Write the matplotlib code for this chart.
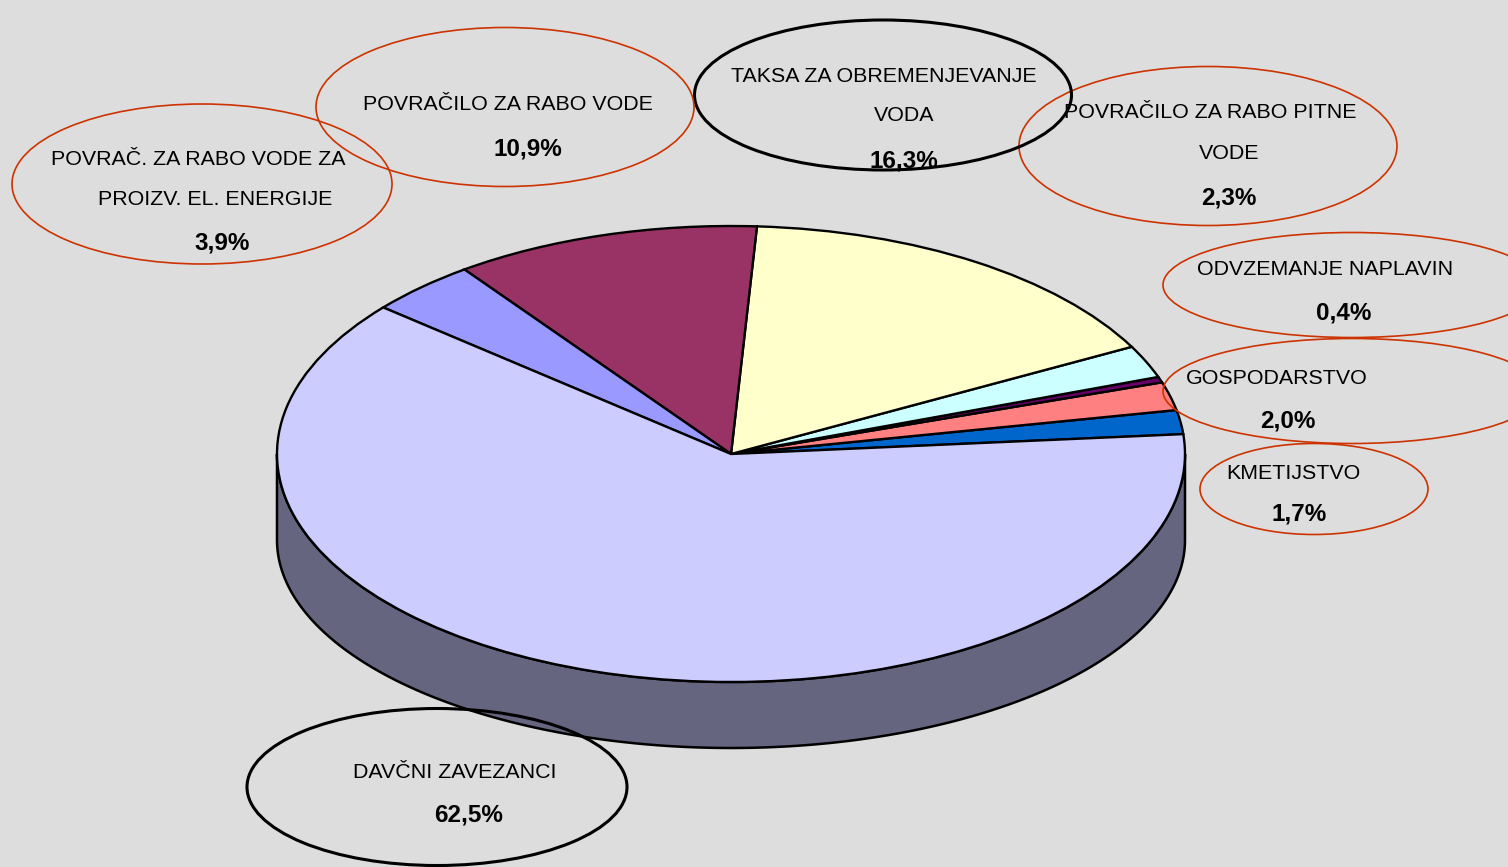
import matplotlib
matplotlib.use("Agg")
import matplotlib.pyplot as plt
from matplotlib.patches import Ellipse, Polygon
import numpy as np

# ---------------- data ----------------
categories = ["KMETIJSTVO", "GOSPODARSTVO", "ODVZEMANJE NAPLAVIN",
              "POVRAČILO ZA RABO PITNE VODE", "TAKSA ZA OBREMENJEVANJE VODA",
              "POVRAČILO ZA RABO VODE",
              "POVRAČ. ZA RABO VODE ZA PROIZV. EL. ENERGIJE",
              "DAVČNI ZAVEZANCI"]
shares = [1.7, 2.0, 0.4, 2.3, 16.3, 10.9, 3.9, 62.5]
label_lines = [["KMETIJSTVO"], ["GOSPODARSTVO"], ["ODVZEMANJE NAPLAVIN"],
               ["POVRAČILO ZA RABO PITNE", "VODE"],
               ["TAKSA ZA OBREMENJEVANJE", "VODA"],
               ["POVRAČILO ZA RABO VODE"],
               ["POVRAČ. ZA RABO VODE ZA", "PROIZV. EL. ENERGIJE"],
               ["DAVČNI ZAVEZANCI"]]
pct_labels = [f"{v:.1f}%".replace(".", ",") for v in shares]

# ---------------- style / layout ----------------
colors = ["#0066CC", "#FF8080", "#660066", "#CCFFFF", "#FFFFCC",
          "#993366", "#9999FF", "#CCCCFF"]
side_color = "#65657F"
bg = "#DDDDDD"
W, H = 1508, 867
cx, cy, rx, ry = 731, 454, 454, 228      # top surface (pixels)
cy_bot, ry_bot = 540, 208                # bottom rim (pixels)
k = rx / ry

# callout ellipses: (cx, cy, w, h, color, lw)   in pixels
callouts = [
    (1314, 489, 228, 91, "#CC3300", 1.2),
    (1352, 391, 378, 105, "#CC3300", 1.2),
    (1352, 285, 378, 105, "#CC3300", 1.2),
    (1208, 146, 378, 159, "#CC3300", 1.2),
    (883, 95, 377, 150, "black", 2.2),
    (505, 107, 378, 159, "#CC3300", 1.2),
    (202, 184, 380, 160, "#CC3300", 1.2),
    (437, 787, 380, 157, "black", 2.2),
]
# text line centres (x, y) in pixels, then percentage centre
line_pos = [
    [(1293, 471)],
    [(1277, 376)],
    [(1325, 267)],
    [(1210, 110), (1229, 151)],
    [(884, 74), (904, 113)],
    [(508, 102)],
    [(198, 157), (215, 197)],
    [(455, 770)],
]
pct_pos = [(1299, 512), (1288, 419), (1344, 311), (1229, 196),
           (904, 159), (528, 147), (222, 241), (469, 813)]


def P(x, y):
    return x, (H - y) * k


plt.rcParams["font.family"] = ["Liberation Sans", "DejaVu Sans"]
fig = plt.figure(figsize=(W / 100, H / 100), dpi=100, facecolor=bg)
ax = fig.add_axes([0, 0, 1, 1])
ax.set_facecolor(bg)

# side of the 3D pie
t = np.linspace(np.pi, 2 * np.pi, 300)
top = np.column_stack([cx + rx * np.cos(t), (H - (cy - ry * np.sin(t))) * k])
bot = np.column_stack([cx + rx * np.cos(t[::-1]),
                       (H - (cy_bot - ry_bot * np.sin(t[::-1]))) * k])
ax.add_patch(Polygon(np.vstack([top, bot]), closed=True, facecolor=side_color,
                     edgecolor="black", linewidth=1.8, zorder=1))

# top surface
ax.pie(shares, colors=colors, startangle=5.0, counterclock=True,
       center=P(cx, cy), radius=rx,
       wedgeprops=dict(edgecolor="black", linewidth=1.7, zorder=2))
ax.set_aspect("auto")
ax.set_xlim(0, W)
ax.set_ylim(0, H * k)
ax.axis("off")

# callouts
for (ex, ey, ew, eh, ec, lw), lines, lpos, pct, ppos in zip(
        callouts, label_lines, line_pos, pct_labels, pct_pos):
    ax.add_patch(Ellipse(P(ex, ey), ew, eh * k, facecolor="none",
                         edgecolor=ec, linewidth=lw, zorder=5))
    for txt, (tx, ty) in zip(lines, lpos):
        ax.text(*P(tx, ty + 7.7), txt, ha="center", va="baseline",
                fontsize=15.4, color="black", zorder=6)
    ax.text(*P(ppos[0], ppos[1] + 8.7), pct, ha="center", va="baseline",
            fontsize=17.5, fontweight="bold", color="black", zorder=6)

fig.savefig("out.png", dpi=100, facecolor=bg)
